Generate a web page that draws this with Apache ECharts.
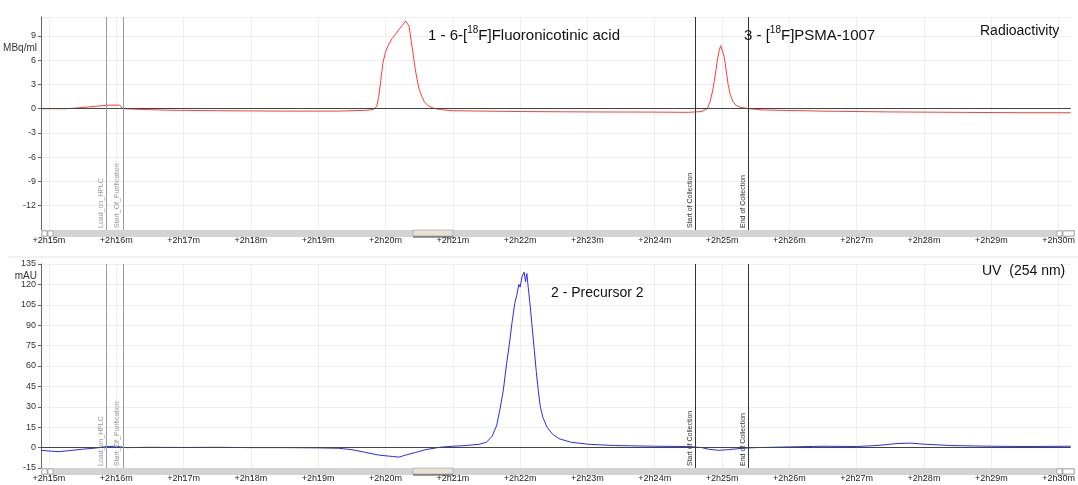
<!DOCTYPE html>
<html>
<head>
<meta charset="utf-8">
<title>HPLC chromatogram</title>
<script src="https://cdn.jsdelivr.net/npm/echarts@6/dist/echarts.min.js"></script>
<style>
  html, body { margin: 0; padding: 0; background: #fff; }
  #main { width: 1078px; height: 485px; }
</style>
</head>
<body>
<div id="main"></div>
<script>
// time axis in minutes after +2h
var minuteTicks = [15, 16, 17, 18, 19, 20, 21, 22, 23, 24, 25, 26, 27, 28, 29, 30];

// radioactivity trace (MBq/ml)
var radioTime = [14.88, 15.25, 15.35, 15.5, 15.7, 15.85, 16.05, 16.09, 16.12, 16.4, 16.8, 17.5, 18.5, 19.3, 19.7, 19.82,
  19.87, 19.9, 19.93, 19.96, 20.0, 20.05, 20.1, 20.15, 20.2, 20.25, 20.3, 20.32, 20.35, 20.38, 20.41, 20.44, 20.47,
  20.5, 20.54, 20.58, 20.63, 20.7, 20.8, 21.0, 22.0, 23.0, 24.0, 24.5, 24.7, 24.78, 24.82, 24.86, 24.9, 24.93, 24.96,
  24.98, 25.0, 25.03, 25.06, 25.09, 25.12, 25.16, 25.21, 25.28, 25.4, 25.6, 26.5, 27.5, 28.5, 29.5, 30.18];
var radioValue = [0, 0, 0.05, 0.15, 0.3, 0.42, 0.45, 0.05, 0, -0.1, -0.18, -0.25, -0.3, -0.3, -0.2, -0.1,
  0.3, 1.5, 3.5, 5.6, 7.0, 8.0, 8.7, 9.2, 9.8, 10.3, 10.85, 10.9, 10.2, 8.5, 6.8, 5.0, 3.6,
  2.4, 1.5, 0.8, 0.4, 0.1, -0.1, -0.25, -0.35, -0.4, -0.42, -0.45, -0.35, 0, 0.8, 2.2, 4.2, 6.0, 7.3,
  7.8, 7.6, 6.5, 4.8, 3.0, 1.8, 0.9, 0.4, 0.15, 0, -0.15, -0.3, -0.4, -0.45, -0.5, -0.5];

// UV trace at 254 nm (mAU)
var uvTime = [14.88, 15.0, 15.15, 15.3, 15.5, 15.7, 15.85, 16.0, 16.09, 16.15, 16.5, 17.0, 17.5, 18.0, 18.5, 19.0,
  19.3, 19.5, 19.7, 19.9, 20.1, 20.2, 20.3, 20.45, 20.6, 20.8, 21.0, 21.2, 21.4, 21.5, 21.58, 21.65, 21.7, 21.75,
  21.8, 21.84, 21.88, 21.92, 21.95, 21.98, 22.0, 22.03, 22.06, 22.08, 22.1, 22.12, 22.15, 22.18, 22.21, 22.24,
  22.27, 22.3, 22.34, 22.4, 22.48, 22.58, 22.75, 23.0, 23.4, 24.0, 24.5, 24.7, 24.8, 24.95, 25.1, 25.3, 25.5,
  26.0, 26.5, 27.0, 27.3, 27.6, 27.8, 28.0, 28.4, 29.0, 29.5, 30.18];
var uvValue = [-2, -2.5, -3, -2.2, -1.2, -0.3, 0.8, 1.0, 0.3, 0, 0.2, 0.1, 0.2, 0, 0, -0.2,
  -0.5, -1.5, -3.5, -5.5, -6.5, -7, -5.5, -3.5, -1.5, 0.2, 1, 1.5, 2.5, 4, 8, 16, 28, 42,
  62, 76, 92, 106, 112, 120, 118, 126, 129, 122, 128, 118, 104, 88, 72, 56,
  42, 30, 22, 15, 10, 6.5, 4, 2.5, 1.5, 1, 0.8, 0, -1.2, -2, -1.5, -0.5, 0,
  0.5, 1, 0.8, 1.5, 3, 3.3, 2.5, 1.5, 1, 0.8, 1];

// run events
var eventNames = ['Load_on_HPLC', 'Start_Of_Purification', 'Start of Collection', 'End of Collection'];
var eventTimes = [15.852, 16.098, 24.6, 25.39];
var eventColors = ['#9a9a9a', '#9a9a9a', '#333333', '#333333'];

function pairs(t, v) {
  return t.map(function (x, i) { return [x, v[i]]; });
}

function markLines() {
  var d = [{ yAxis: 0, lineStyle: { color: '#444', width: 1, type: 'solid' }, label: { show: false } }];
  eventTimes.forEach(function (t, i) {
    d.push({
      xAxis: t,
      lineStyle: { color: eventColors[i], width: 1, type: 'solid' },
      label: {
        show: true, formatter: eventNames[i], position: 'insideStartTop',
        fontSize: 7, color: eventColors[i], distance: 2
      }
    });
  });
  return { silent: true, symbol: 'none', animation: false, data: d };
}

function xAxisFor(i) {
  return {
    type: 'value', gridIndex: i, min: 14.882, max: 30.18,
    axisLine: { show: false, onZero: false },
    axisTick: { show: true, length: 9, customValues: minuteTicks, lineStyle: { color: '#777' } },
    axisLabel: {
      customValues: minuteTicks, fontSize: 9, color: '#222', margin: 6,
      formatter: function (v) { return '+2h' + v + 'm'; }
    },
    splitLine: { show: true, lineStyle: { color: '#efefef' } }
  };
}

function yAxisFor(i, min, max, step, showMax) {
  return {
    type: 'value', gridIndex: i, min: min, max: max, interval: step,
    axisLine: { show: true, lineStyle: { color: '#666' } },
    axisTick: { show: true, length: 3, lineStyle: { color: '#666' } },
    axisLabel: { fontSize: 9, color: '#333', margin: 5, showMinLabel: i === 1, showMaxLabel: showMax },
    splitLine: { show: true, lineStyle: { color: '#efefef' } }
  };
}

function scrollbar(y) {
  return [
    { type: 'rect', z: 100, shape: { x: 41, y: y, width: 1034, height: 7 }, style: { fill: '#d3d3d3' } },
    { type: 'rect', z: 101, shape: { x: 413, y: y, width: 40, height: 6 }, style: { fill: '#e6e2d8', stroke: '#8a8a8a', lineWidth: 0.5 } },
    { type: 'line', z: 102, shape: { x1: 413, y1: y + 7, x2: 453, y2: y + 7 }, style: { stroke: '#444', lineWidth: 1 } },
    { type: 'rect', z: 101, shape: { x: 42, y: y + 1, width: 5, height: 5 }, style: { fill: '#fff', stroke: '#777', lineWidth: 0.5 } },
    { type: 'rect', z: 101, shape: { x: 48, y: y + 1, width: 5, height: 5 }, style: { fill: '#fff', stroke: '#777', lineWidth: 0.5 } },
    { type: 'rect', z: 101, shape: { x: 1057, y: y + 1, width: 5, height: 5 }, style: { fill: '#fff', stroke: '#777', lineWidth: 0.5 } },
    { type: 'rect', z: 101, shape: { x: 1063, y: y + 1, width: 11, height: 5 }, style: { fill: '#fff', stroke: '#777', lineWidth: 0.5 } }
  ];
}

var chart = echarts.init(document.getElementById('main'));

var rich = {
  a: { fontSize: 15, lineHeight: 22, color: '#111', fontWeight: 'normal', fontFamily: 'Liberation Sans' },
  s: { fontSize: 10, lineHeight: 10, verticalAlign: 'top', color: '#111', fontWeight: 'normal', fontFamily: 'Liberation Sans' }
};

chart.setOption({
  animation: false,
  textStyle: { fontFamily: 'Liberation Sans' },
  title: [
    { text: '{a|1 - 6-[}{s|18}{a|F]Fluoronicotinic acid}', left: 428, top: 25, padding: 0, textStyle: { fontWeight: 'normal', rich: rich } },
    { text: '{a|3 - [}{s|18}{a|F]PSMA-1007}', left: 744, top: 25, padding: 0, textStyle: { fontWeight: 'normal', rich: rich } },
    { text: 'Radioactivity', left: 980, top: 24, padding: 0, textStyle: { fontSize: 14, fontWeight: 'normal', color: '#111' } },
    { text: 'UV  (254 nm)', left: 982, top: 264, padding: 0, textStyle: { fontSize: 14, fontWeight: 'normal', color: '#111' } },
    { text: '2 - Precursor 2', left: 551, top: 286, padding: 0, textStyle: { fontSize: 14, fontWeight: 'normal', color: '#111' } }
  ],
  grid: [
    { left: 41, right: 2, top: 17, height: 213 },
    { left: 41, right: 2, top: 264, height: 204 }
  ],
  xAxis: [xAxisFor(0), xAxisFor(1)],
  yAxis: [yAxisFor(0, -15, 11.34, 3, false), yAxisFor(1, -15, 135, 15, true)],
  graphic: [].concat(
    scrollbar(230),
    scrollbar(468),
    [
      { type: 'line', z: 50, shape: { x1: 8, y1: 257, x2: 1078, y2: 257 }, style: { stroke: '#e4e4e4', lineWidth: 1 } },
      { type: 'text', z: 100, x: 37, y: 48, style: { text: 'MBq/ml', fontSize: 10, fill: '#333', align: 'right', verticalAlign: 'middle', fontFamily: 'Liberation Sans' } },
      { type: 'text', z: 100, x: 37, y: 276, style: { text: 'mAU', fontSize: 10, fill: '#333', align: 'right', verticalAlign: 'middle', fontFamily: 'Liberation Sans' } }
    ]
  ),
  series: [
    { type: 'line', xAxisIndex: 0, yAxisIndex: 0, data: [], markLine: markLines() },
    {
      name: 'Radioactivity', type: 'line', xAxisIndex: 0, yAxisIndex: 0,
      data: pairs(radioTime, radioValue), symbol: 'none',
      lineStyle: { color: '#ff3b3b', width: 1 }
    },
    { type: 'line', xAxisIndex: 1, yAxisIndex: 1, data: [], markLine: markLines() },
    {
      name: 'UV (254 nm)', type: 'line', xAxisIndex: 1, yAxisIndex: 1,
      data: pairs(uvTime, uvValue), symbol: 'none',
      lineStyle: { color: '#2a2af5', width: 1 }
    }
  ]
});
</script>
</body>
</html>
